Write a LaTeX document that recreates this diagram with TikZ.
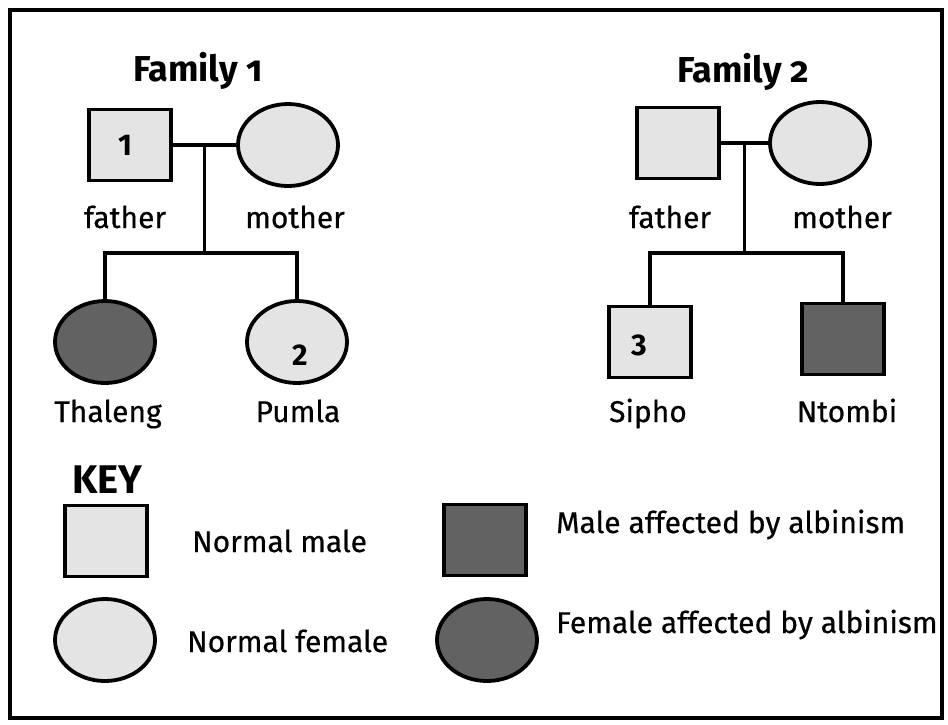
\documentclass[tikz,border=0pt]{standalone}
\usepackage{fontspec}
\setmainfont{Fira Sans}[UprightFeatures={FakeBold=0.5}]
\usepackage{tikz}
\usetikzlibrary{shapes, calc, positioning}

\definecolor{normalgray}{HTML}{E4E4E4}
\definecolor{albino}{HTML}{626262}

\begin{document}
\begin{tikzpicture}[
  x=1pt, y=-1pt,
  font=\fontsize{30}{36}\selectfont,
  male/.style={draw, rectangle, line width=3.8pt, fill=normalgray,
               minimum width=82pt, minimum height=71pt},
  female/.style={draw, ellipse, line width=3.8pt, fill=normalgray,
                 minimum width=100pt, minimum height=82pt},
  affected/.style={fill=albino},
  lbl/.style={anchor=base, inner sep=0pt},
  keylbl/.style={anchor=base west, inner sep=0pt},
  title/.style={anchor=base, inner sep=0pt,
                font=\fontsize{36}{42}\selectfont\bfseries\addfontfeatures{Numbers=OldStyle}},
  num/.style={inner sep=0pt, font=\fontsize{30}{36}\selectfont\bfseries},
  link/.style={line width=3.8pt}
]
  \useasboundingbox (0,0) rectangle (948,724);
  \draw[line width=4pt] (9.5,9.5) rectangle (942,718);

  % family 1
  \node[title] (t1) at (198,81) {Family 1};
  \node[male] (f1dad) at (130,145) {};
  \node[female] (f1mum) at (288,145) {};
  \node[female, affected] (thaleng) at (105,342) {};
  \node[female] (pumla) at (297,342) {};
  \node[num] (n1) at (125,145) {1};
  \node[num] (n2) at (300,355) {2};
  \node[lbl] (l1dad) at (125,228) {father};
  \node[lbl] (l1mum) at (295,228) {mother};
  \node[lbl] (lthaleng) at (108,422) {Thaleng};
  \node[lbl] (lpumla) at (298,422) {Pumla};

  \coordinate (f1m) at ($(f1dad.east)!0.5!(f1mum.west)$);
  \coordinate (f1s) at ($(f1m)+(0,108)$);
  \draw[link] (f1dad.east) -- (f1mum.west);
  \draw[link] (f1m) -- (f1s);
  \draw[link] (thaleng.north) |- (f1s) -| (pumla.north);

  % family 2
  \node[title] (t2) at (743,82) {Family 2};
  \node[male] (f2dad) at (678,143) {};
  \node[female] (f2mum) at (820,143) {};
  \node[male] (sipho) at (650,342) {};
  \node[male, affected] (ntombi) at (843,339) {};
  \node[num] (n3) at (639,345) {3};
  \node[lbl] (l2dad) at (670,228) {father};
  \node[lbl] (l2mum) at (842,228) {mother};
  \node[lbl] (lsipho) at (648,422) {Sipho};
  \node[lbl] (lntombi) at (847,422) {Ntombi};

  \coordinate (f2m) at ($(f2dad.east)!0.5!(f2mum.west)$);
  \coordinate (f2s) at ($(f2m)+(0,110)$);
  \draw[link] (f2dad.east) -- (f2mum.west);
  \draw[link] (f2m) -- (f2s);
  \draw[link] (sipho.north) |- (f2s) -| (ntombi.north);

  % key
  \node[keylbl, font=\fontsize{40}{46}\selectfont\bfseries] (key) at (72,493) {KEY};
  \node[male] (kmale) at (106,541) {};
  \node[female] (kfemale) at (105,640) {};
  \node[male, affected] (kmaleaff) at (485,540) {};
  \node[female, affected] (kfemaff) at (487,640) {};
  \node[keylbl] (lkmale) at (192,552) {Normal male};
  \node[keylbl] (lkfemale) at (187,652) {Normal female};
  \node[keylbl] (lkmaleaff) at (556,533) {Male affected by albinism};
  \node[keylbl] (lkfemaff) at (556,633) {Female affected by albinism};
\end{tikzpicture}
\end{document}
